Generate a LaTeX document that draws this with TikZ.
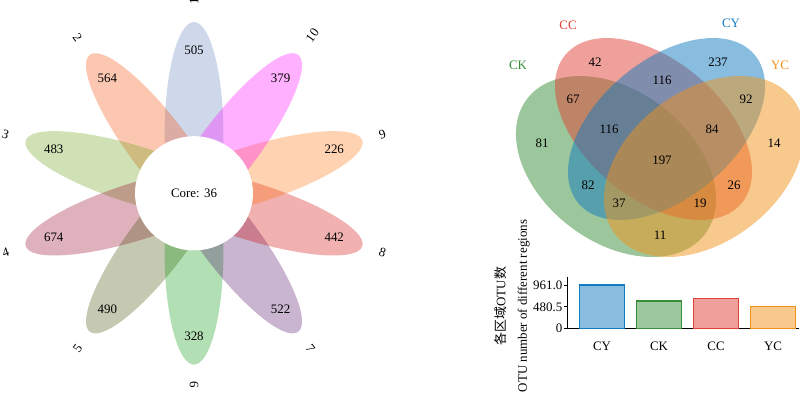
\documentclass[tikz,border=0pt]{standalone}
\usepackage{fontspec}
\setmainfont{Liberation Serif}
\newfontfamily\cjkfont{Noto Sans CJK SC}
\definecolor{p1}{HTML}{6181BD}
\definecolor{p2}{HTML}{F34800}
\definecolor{p3}{HTML}{64A10E}
\definecolor{p4}{HTML}{930026}
\definecolor{p5}{HTML}{464E04}
\definecolor{p6}{HTML}{049A0B}
\definecolor{p7}{HTML}{4E0C66}
\definecolor{p8}{HTML}{D00000}
\definecolor{p9}{HTML}{FF6C00}
\definecolor{p10}{HTML}{FF00FF}
\definecolor{ck}{HTML}{398F39}
\definecolor{cc}{HTML}{E14135}
\definecolor{cy}{HTML}{117BC1}
\definecolor{yc}{HTML}{F1931B}
\begin{document}
\begin{tikzpicture}[x=0.75pt,y=-0.75pt,
  every node/.style={font=\fontsize{9.7pt}{12pt}\selectfont, inner sep=0pt},
  petal/.style={fill opacity=0.306},
  vset/.style={fill opacity=0.5},
  bar/.style={draw=#1, fill=#1!50!white, line width=0.8pt},
  lab/.style={text=#1}]
\useasboundingbox (0,0) rectangle (800,393);
% ---------------- flower ----------------
\begin{scope}[shift={(194,193.3)}, xscale=1.033]
\foreach \c [count=\i from 0] in {p1,p2,p3,p4,p5,p6,p7,p8,p9,p10}{
  \fill[\c, petal, rotate=36*\i] (0,-57.1) ellipse [x radius=28.55, y radius=114.2];
}
\fill[white] (0,0) circle [radius=57.1];
\node (core) at (0,0) {Core: 36};
\foreach \n [count=\i from 0] in {505,564,483,674,490,328,522,442,226,379}{
  \node (num\i) at ({142.75*cos(90+36*\i)},{-142.75*sin(90+36*\i)}) {\n};
}
\node[rotate=90, anchor=west] (s1) at ({188.4*cos(90)},{-188.4*sin(90)}) {1};
\node[rotate=-54, anchor=east] (s2) at ({188.4*cos(126)},{-188.4*sin(126)}) {2};
\node[rotate=-18, anchor=east] (s3) at ({188.4*cos(162)},{-188.4*sin(162)}) {3};
\node[rotate=18, anchor=east] (s4) at ({188.4*cos(198)},{-188.4*sin(198)}) {4};
\node[rotate=54, anchor=east] (s5) at ({188.4*cos(234)},{-188.4*sin(234)}) {5};
\node[rotate=270, anchor=west] (s6) at ({188.4*cos(270)},{-188.4*sin(270)}) {6};
\node[rotate=306, anchor=west] (s7) at ({188.4*cos(306)},{-188.4*sin(306)}) {7};
\node[rotate=342, anchor=west] (s8) at ({188.4*cos(342)},{-188.4*sin(342)}) {8};
\node[rotate=18, anchor=west] (s9) at ({188.4*cos(18)},{-188.4*sin(18)}) {9};
\node[rotate=54, anchor=west] (s10) at ({188.4*cos(54)},{-188.4*sin(54)}) {10};
\end{scope}
% ---------------- Venn ----------------
\fill[ck, vset, rotate around={-37.2:(616,166.5)}] (616,166.5) ellipse [x radius=111.7, y radius=75.6];
\fill[cc, vset, rotate around={-40.2:(653.5,129)}] (653.5,129) ellipse [x radius=115.2, y radius=68.6];
\fill[cy, vset, rotate around={40.2:(666.5,129)}] (666.5,129) ellipse [x radius=115.2, y radius=68.6];
\fill[yc, vset, rotate around={37.2:(704,166.5)}] (704,166.5) ellipse [x radius=111.7, y radius=75.6];
\node[lab=ck] (lck) at (518,65) {CK};
\node[lab=cc] (lcc) at (568,25) {CC};
\node[lab=cy] (lcy) at (731,23) {CY};
\node[lab=yc] (lyc) at (780,65) {YC};
\node (v81) at (542,143) {81};
\node (v14) at (774,143) {14};
\node (v42) at (595,62) {42};
\node (v237) at (718,62) {237};
\node (v67) at (573,99) {67};
\node (v92) at (746,99) {92};
\node (v116t) at (662,80) {116};
\node (v116l) at (609,129) {116};
\node (v84) at (712,129) {84};
\node (v197) at (662,160) {197};
\node (v82) at (588,185) {82};
\node (v26) at (734,185) {26};
\node (v37) at (619,203) {37};
\node (v19) at (700,203) {19};
\node (v11) at (660,235) {11};
% ---------------- bar chart ----------------
\coordinate (ytop) at (567.3,276.5);
\coordinate (orig) at (567.3,328.7);
\coordinate (xend) at (799,328.7);
\draw[line width=0.75pt] (ytop) -- (orig) -- (xend);
\foreach \y/\t [count=\k] in {285/961.0,306.85/480.5,328.7/0}{
  \coordinate (tk\k) at (564,\y);
  \draw[line width=0.75pt] (tk\k) -- (567.3,\y);
  \node[anchor=east] (tl\k) at (562.5,\y) {\t};
}
\draw[bar=cy] (579.3,328.7) rectangle (624.3,285);
\draw[bar=ck] (636.7,328.7) rectangle (681.7,301.0);
\draw[bar=cc] (693.3,328.7) rectangle (738.3,298.4);
\draw[bar=yc] (750.7,328.7) rectangle (795.7,306.9);
\node (xcy) at (602,346) {CY};
\node (xck) at (659,346) {CK};
\node (xcc) at (716,346) {CC};
\node (xyc) at (773,346) {YC};
\node[rotate=90, align=center, font=\fontsize{9.7pt}{16pt}\selectfont] (ylab) at (512,306) {{\cjkfont 各区域}OTU{\cjkfont 数}\\OTU number of different regions};
\end{tikzpicture}
\end{document}
